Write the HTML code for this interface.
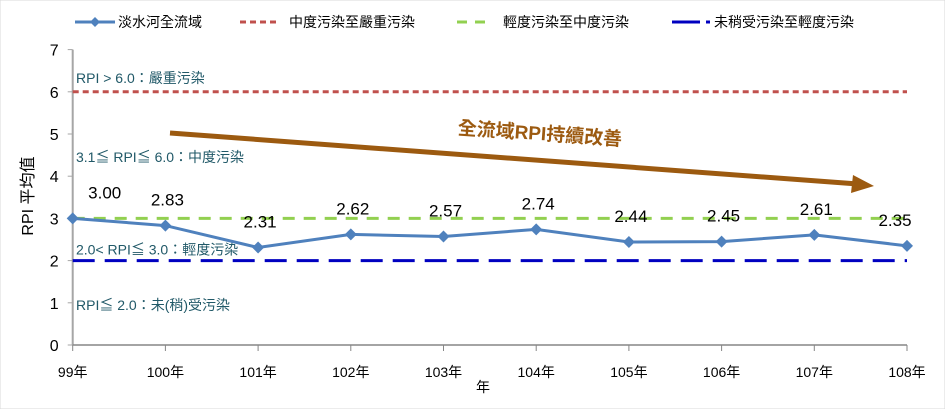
<!DOCTYPE html>
<html><head><meta charset="utf-8"><style>
body{margin:0;background:#fff;}
svg{display:block;font-family:"Liberation Sans","Noto Sans CJK TC",sans-serif;}
</style></head><body>
<svg id="chart" width="945" height="409" viewBox="0 0 945 409">
<rect width="945" height="409" fill="#fff" stroke="#d9d9d9"/>
<g id="legend" font-size="14" fill="#000">
 <g><line x1="75" y1="22" x2="115" y2="22" stroke="#4f81bd" stroke-width="3"/><path d="M95 17 L100 22 L95 27 L90 22Z" fill="#4f81bd"/><text x="118" y="27">淡水河全流域</text></g>
 <g><line x1="240" y1="22" x2="280" y2="22" stroke="#c0504d" stroke-width="3" stroke-dasharray="6,4"/><text x="289" y="27">中度污染至嚴重污染</text></g>
 <g><line x1="457" y1="22" x2="493" y2="22" stroke="#92d050" stroke-width="3" stroke-dasharray="10,8"/><text x="503" y="27">輕度污染至中度污染</text></g>
 <g><line x1="672" y1="22" x2="700" y2="22" stroke="#0000c0" stroke-width="3"/><line x1="706" y1="22" x2="710" y2="22" stroke="#0000c0" stroke-width="3"/><text x="714" y="27">未稍受污染至輕度污染</text></g>
</g>
<g id="plot"></g>
</svg>
<script>
const years=["99年","100年","101年","102年","103年","104年","105年","106年","107年","108年"];
const rpi=[3.00,2.83,2.31,2.62,2.57,2.74,2.44,2.45,2.61,2.35];
const valueLabels=["3.00","2.83","2.31","2.62","2.57","2.74","2.44","2.45","2.61","2.35"];
const yTicks=[0,1,2,3,4,5,6,7];
const thresholds=[6,3,2];
const NS="http://www.w3.org/2000/svg";
const x0=72.7,dx=92.7,y0=345,uy=42.2;
const X=i=>x0+i*dx, Y=v=>y0-v*uy;
const g=document.getElementById('plot');
function mk(t,a,txt){const e=document.createElementNS(NS,t);for(const k in a)e.setAttribute(k,a[k]);if(txt!=null)e.textContent=txt;g.appendChild(e);return e;}
// axes
let e=mk('line',{x1:x0,y1:Y(7),x2:x0,y2:y0,stroke:'#a6a6a6','stroke-width':2});


e=mk('line',{x1:x0,y1:y0,x2:X(9),y2:y0,stroke:'#868686','stroke-width':1.5});


yTicks.forEach(v=>{
 mk('line',{x1:x0-5,y1:Y(v),x2:x0,y2:Y(v),stroke:'#a6a6a6'});
 e=mk('text',{x:x0-14,y:Y(v)+6,'font-size':16,'text-anchor':'end',fill:'#000'},String(v));
 
 
});
years.forEach((yr,i)=>{
 mk('line',{x1:X(i),y1:y0,x2:X(i),y2:y0+6,stroke:'#868686'});
 e=mk('text',{x:X(i),y:y0+32,'font-size':14,'text-anchor':'middle',fill:'#000'},yr);
 
 
});
e=mk('text',{x:483,y:392,'font-size':14,'text-anchor':'middle'},'年');


e=mk('text',{x:33,y:196,'font-size':16,'text-anchor':'middle',transform:'rotate(-90 33 196)'},'RPI 平均值');


// thresholds
const thStyle=[{c:'#c0504d',d:'6,4',n:'severe-threshold-line'},{c:'#92d050',d:'12,9',n:'moderate-threshold-line'},{c:'#0000c0',d:'22,10',n:'light-threshold-line'}];
thresholds.forEach((v,i)=>{
 e=mk('line',{x1:x0,y1:Y(v),x2:X(9),y2:Y(v),stroke:thStyle[i].c,'stroke-width':3,'stroke-dasharray':thStyle[i].d});
 
 
});
// zone labels
[["RPI > 6.0：嚴重污染",Y(6)-9],["3.1≦ RPI≦ 6.0：中度污染",Y(5)+28],["2.0< RPI≦ 3.0：輕度污染",Y(2)-6],["RPI≦ 2.0：未(稍)受污染",Y(1)+7]].forEach(([t,y])=>{
 e=mk('text',{x:76,y:y,'font-size':14,fill:'#215968'},t);
 
 
});
// trend arrow
e=mk('path',{d:'M170 133 L858 184',stroke:'#9c5a10','stroke-width':5,fill:'none'});


e=mk('path',{d:'M853 175 L874 186 L851 193Z',fill:'#9c5a10'});


e=mk('text',{x:540,y:140,'font-size':19,'font-weight':'bold','text-anchor':'middle',fill:'#9c5a10',transform:'rotate(4 540 133)'},'全流域RPI持續改善');


// series
e=mk('polyline',{points:rpi.map((v,i)=>X(i)+','+Y(v)).join(' '),fill:'none',stroke:'#4f81bd','stroke-width':3});


rpi.forEach((v,i)=>{
 const cx=X(i),cy=Y(v);
 e=mk('path',{d:`M${cx} ${cy-6} L${cx+6} ${cy} L${cx} ${cy+6} L${cx-6} ${cy}Z`,fill:'#4f81bd'});
 
 
 e=mk('text',{x:cx+(i==0?32:i==9?-12:2),y:cy-20,'font-size':17,'text-anchor':'middle',fill:'#000'},valueLabels[i]);
 
 
});
</script>
</body></html>
